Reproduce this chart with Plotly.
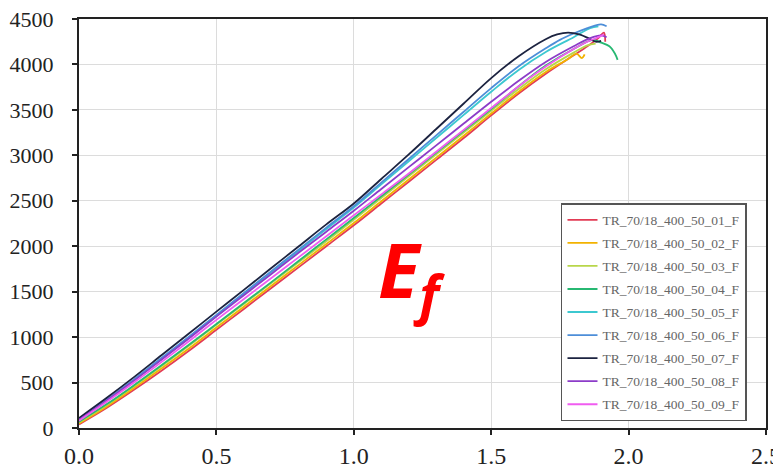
import plotly.graph_objects as go

names = ["TR_70/18_400_50_01_F", "TR_70/18_400_50_02_F", "TR_70/18_400_50_03_F",
         "TR_70/18_400_50_04_F", "TR_70/18_400_50_05_F", "TR_70/18_400_50_06_F",
         "TR_70/18_400_50_07_F", "TR_70/18_400_50_08_F", "TR_70/18_400_50_09_F"]
colors = ["#e23b55", "#f2b200", "#b8d64a", "#27b872", "#3cc8d0", "#4d8ed8",
          "#1c2340", "#8c3cc8", "#f05cf0"]

base_x = [0, 0.1, 0.2, 0.3, 0.4, 0.5, 0.6, 0.7, 0.8, 0.9, 1.0, 1.1, 1.2, 1.3, 1.4, 1.5, 1.6, 1.7]

x01 = base_x + [1.8, 1.85, 1.89, 1.91, 1.915]
y01 = [40, 220, 420, 630, 850, 1080, 1310, 1540, 1770, 2000, 2230, 2470, 2710, 2950, 3190, 3440, 3680, 3900,
       4100, 4200, 4290, 4350, 4250]
x02 = base_x + [1.78, 1.81, 1.83, 1.84]
y02 = [50, 235, 440, 655, 875, 1105, 1335, 1565, 1795, 2025, 2255, 2495, 2735, 2975, 3215, 3460, 3700, 3920,
       4060, 4120, 4070, 4110]
x03 = base_x + [1.8, 1.85, 1.88]
y03 = [60, 250, 460, 680, 905, 1135, 1365, 1595, 1825, 2055, 2290, 2530, 2770, 3010, 3250, 3490, 3730, 3950,
       4130, 4210, 4230]
x04 = base_x + [1.8, 1.87, 1.9, 1.93, 1.95, 1.96]
y04 = [70, 260, 470, 690, 915, 1145, 1375, 1605, 1840, 2075, 2310, 2550, 2790, 3030, 3270, 3510, 3760, 3990,
       4170, 4270, 4240, 4200, 4120, 4050]
x05 = base_x + [1.8, 1.86, 1.89]
y05 = [95, 300, 525, 760, 995, 1235, 1475, 1715, 1950, 2190, 2425, 2680, 2935, 3190, 3445, 3700, 3940, 4140,
       4300, 4400, 4420]
x06 = base_x + [1.75, 1.8, 1.85, 1.88, 1.9, 1.92]
y06 = [100, 310, 535, 770, 1005, 1245, 1485, 1725, 1965, 2205, 2440, 2700, 2960, 3220, 3480, 3740, 3980, 4180,
       4270, 4340, 4400, 4430, 4440, 4420]
x07 = base_x + [1.74, 1.78, 1.82, 1.86, 1.88, 1.9]
y07 = [110, 330, 560, 800, 1040, 1280, 1520, 1760, 2000, 2240, 2470, 2740, 3010, 3290, 3570, 3850, 4090, 4280,
       4330, 4350, 4330, 4280, 4250, 4260]
x08 = base_x + [1.8, 1.86, 1.9, 1.92]
y08 = [90, 300, 520, 750, 985, 1225, 1460, 1695, 1930, 2160, 2390, 2630, 2870, 3110, 3350, 3590, 3820, 4030,
       4200, 4290, 4320, 4300]
x09 = base_x + [1.8, 1.85, 1.89, 1.91]
y09 = [80, 285, 500, 725, 955, 1190, 1420, 1650, 1880, 2110, 2340, 2570, 2800, 3040, 3280, 3520, 3760, 3980,
       4170, 4250, 4300, 4330]

xs = [x01, x02, x03, x04, x05, x06, x07, x08, x09]
ys = [y01, y02, y03, y04, y05, y06, y07, y08, y09]

x_ticks = [0.0, 0.5, 1.0, 1.5, 2.0, 2.5]
x_tick_labels = ["0.0", "0.5", "1.0", "1.5", "2.0", "2.5"]
y_ticks = [0, 500, 1000, 1500, 2000, 2500, 3000, 3500, 4000, 4500]

fig = go.Figure()
for i, (n, c, x, y) in enumerate(zip(names, colors, xs, ys)):
    fig.add_trace(go.Scatter(x=x, y=y, mode="lines", name=n, legendgroup=f"g{i}",
                             line=dict(color=c, width=1.8), line_shape="spline"))

axis_common = dict(showline=True, linecolor="#222222", linewidth=2, mirror=True,
                   ticks="outside", ticklen=5, tickwidth=1.5, tickcolor="#222222",
                   showgrid=True, gridcolor="#dcdcdc", gridwidth=1, zeroline=False,
                   automargin=False, ticklabeloverflow="allow")

fig.update_xaxes(range=[0, 2.5], tickvals=x_ticks, ticktext=x_tick_labels,
                 tickfont=dict(family="Liberation Serif", size=24, color="#222222"),
                 **axis_common)
fig.update_yaxes(range=[0, 4500], tickvals=y_ticks, ticklabelstandoff=14,
                 tickfont=dict(family="Liberation Serif", size=22, color="#222222"),
                 **axis_common)

fig.add_annotation(x=1.21, y=1700, xref="x", yref="y", xanchor="center", yanchor="middle",
                   text="<b><i>E<sub>f</sub></i></b>", showarrow=False,
                   font=dict(family="Open Sans", size=76, color="#ff0000"))

fig.update_layout(
    width=773, height=460,
    margin=dict(l=71, r=15, t=11, b=40),
    paper_bgcolor="white", plot_bgcolor="white",
    legend=dict(x=0.7016, y=0.55, xanchor="left", yanchor="top",
                bgcolor="white", bordercolor="#555555", borderwidth=1.5,
                font=dict(family="Liberation Serif", size=13.5, color="#666666"),
                itemwidth=30, tracegroupgap=2.5),
)

fig.write_html("out.html")
